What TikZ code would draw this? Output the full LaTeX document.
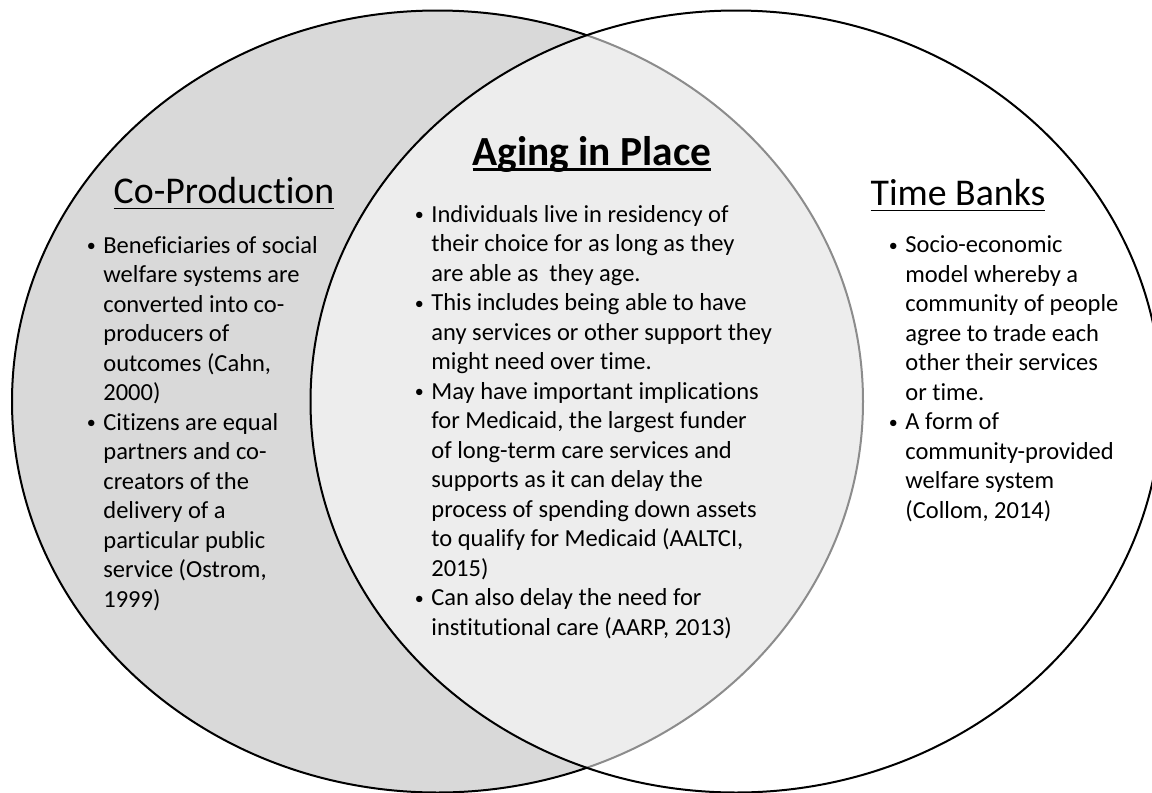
\documentclass[tikz,border=0pt]{standalone}
\usepackage{fontspec}
\setmainfont{Carlito}[Ligatures=NoCommon]
\usepackage{xcolor}
\usepackage{tikz}

\definecolor{coprodgray}{HTML}{D9D9D9}

% underlined heading, rule set a little below the baseline
\newcommand{\ulined}[2][0.75pt]{\setbox0\hbox{#2}\rlap{\rule[-3pt]{\wd0}{#1}}\box0}
% hanging bullet in front of a line
\newcommand{\bul}{\leavevmode\llap{\makebox[8.3pt][l]{\raisebox{0.6pt}{\fontsize{9}{9}\selectfont\textbullet}}}}

\begin{document}
\begin{tikzpicture}[x=0.5pt,y=-0.5pt,
    heading/.style={anchor=base,inner sep=0pt,font=\fontsize{18.9}{23}\selectfont},
    bodytext/.style={anchor=base west,inner sep=0pt,align=left,
      font=\fontsize{12.25}{14.75}\selectfont}]
  \useasboundingbox[fill=white] (0,0) rectangle (1152,793);

  % the two sets
  \filldraw[fill=coprodgray,line width=1pt] (437.5,401.5) ellipse [x radius=425.5,y radius=391];
  \filldraw[fill=white,fill opacity=0.55,line width=1pt] (736,401.5) ellipse [x radius=425.5,y radius=391];

  % headings
  \node (coprod)  [heading] at (224,203) {\ulined{Co-Production}};
  \node (aging)   [heading,font=\fontsize{20.7}{25}\selectfont\bfseries] at (592,165)
        {\ulined[1.4pt]{Aging in Place}};
  \node (timebank)[heading] at (958,205) {\ulined{Time Banks}};

  % bullet lists (anchored at the baseline of their last line)
  \node (coprodText) [bodytext] at (103,607) {%
    \bul Beneficiaries of social\\ welfare systems are\\ converted into co-\\
    producers of\\ outcomes (Cahn,\\ 2000)\\
    \bul Citizens are equal\\ partners and co-\\ creators of the\\ delivery of a\\
    particular public\\ service (Ostrom,\\ 1999)};
  \node (agingText) [bodytext] at (431,635) {%
    \bul Individuals live in residency of\\ their choice for as long as they\\
    are able as\ \ they age.\\
    \bul This includes being able to have\\ any services or other support they\\
    might need over time.\\
    \bul May have important implications\\ for Medicaid, the largest funder\\
    of long-term care services and\\ supports as it can delay the\\
    process of spending down assets\\ to qualify for Medicaid (AALTCI,\\ 2015)\\
    \bul Can also delay the need for\\ institutional care (AARP, 2013)};
  \node (timebankText) [bodytext] at (905,518) {%
    \bul Socio-economic\\ model whereby a\\ community of people\\ agree to trade each\\
    other their services\\ or time.\\
    \bul A form of\\ community-provided\\ welfare system\\ (Collom, 2014)};
\end{tikzpicture}
\end{document}
